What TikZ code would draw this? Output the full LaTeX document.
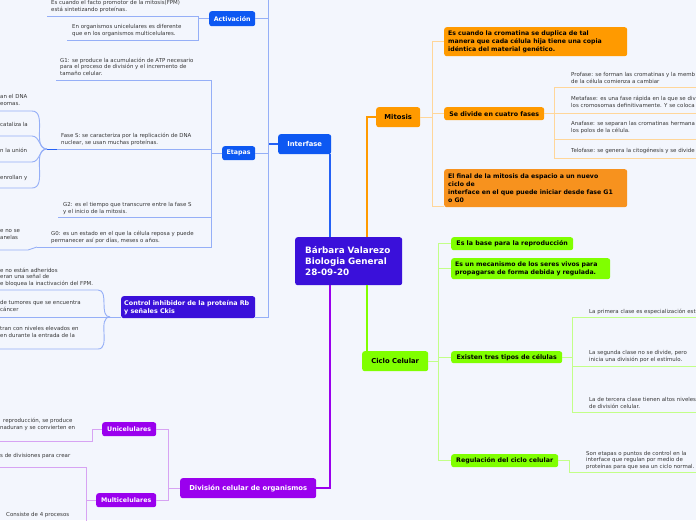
\documentclass[tikz,border=0pt]{standalone}
\usepackage{fontspec}
\setmainfont{DejaVu Sans}

\definecolor{bgcol}{HTML}{F3F6FD}
\definecolor{indigo}{HTML}{3A10DA}
\definecolor{bluebox}{HTML}{0D58F2}
\definecolor{blueline}{HTML}{2461F5}
\definecolor{bluethin}{HTML}{95AFF7}
\definecolor{orangebox}{HTML}{FF9A00}
\definecolor{orangedark}{HTML}{F7921E}
\definecolor{orangethin}{HTML}{FFD699}
\definecolor{greenbox}{HTML}{80FF00}
\definecolor{greenthin}{HTML}{C2FF88}
\definecolor{purplebox}{HTML}{9A00EE}
\definecolor{purplethin}{HTML}{D7A3F3}
\definecolor{notetext}{HTML}{363636}

\tikzset{
  topic/.style={rounded corners=2.5pt, inner sep=0pt, anchor=north west,
    font=\bfseries\fontsize{6.8}{8}\selectfont, text=white},
  sub/.style={rounded corners=2.5pt, inner sep=0pt, anchor=north west,
    font=\bfseries\fontsize{6.3}{8}\selectfont},
  longbox/.style={rounded corners=2.5pt, inner xsep=4pt, inner ysep=0pt, anchor=north west,
    align=left, font=\bfseries\fontsize{6.2}{8}\selectfont},
  note/.style={inner sep=0pt, anchor=base west, align=left, text=notetext,
    font=\fontsize{5.45}{6.6}\selectfont},
  thinline/.style={line width=0.9pt},
  mainline/.style={line width=1.5pt}
}

\begin{document}
\begin{tikzpicture}[x=1pt,y=-1pt]

  \fill[bgcol] (0,0) rectangle (696,520);
  \useasboundingbox (0,0) rectangle (696,520);

  % central topic and main branches
  \node[topic, fill=indigo, text width=87, inner xsep=10pt, minimum height=48, align=left,
    font=\bfseries\fontsize{8.8}{11}\selectfont] (cbox) at (295,237)
    {Bárbara Valarezo\\Biologia General\\28-09-20};

  \node[topic, fill=bluebox, minimum width=53, minimum height=20] (itf) at (278,134) {Interfase};
  \node[topic, fill=orangebox, text=black, minimum width=44, minimum height=20] (mit) at (376,107) {Mitosis};
  \node[topic, fill=greenbox, text=black, minimum width=66, minimum height=20] (ciclo) at (362,351) {Ciclo Celular};
  \node[topic, fill=purplebox, minimum width=136, minimum height=20] (div) at (180,478) {División celular de organismos};

  \coordinate (cbl) at (330,0);
  \coordinate (cbr) at (367,0);
  \draw[mainline, blueline] (cbox.north -| cbl) -- (itf.south -| cbl);
  \draw[mainline, orangebox] (cbox.north -| cbr) |- (mit.west);
  \draw[mainline, greenbox] (cbox.south -| cbr) -- (ciclo.north -| cbr);
  \draw[mainline, purplebox] (cbox.south -| cbl) |- (div.east);

  % Interfase
  \node[sub, fill=bluebox, text=white, minimum width=46, minimum height=15] (act) at (209,11) {Activación};
  \node[sub, fill=bluebox, text=white, minimum width=33, minimum height=14] (etp) at (222,146) {Etapas};
  \node[topic, fill=indigo, text width=128, inner xsep=3pt, minimum height=22, align=left,
    font=\bfseries\fontsize{6.4}{8}\selectfont] (ctl) at (121,296)
    {Control inhibidor de la proteína Rb\\y señales Ckis};

  \coordinate (itop) at (268,-2);
  \coordinate (ctlr) at ([yshift=1pt]ctl.south east);
  \draw[mainline, blueline] (itf.west) -- (itf.west -| itop);
  \draw[thinline, bluethin] (itop) -- (ctlr -| itop) -- (ctlr);
  \draw[thinline, bluethin] (act.east) -- (act.east -| itop);
  \draw[thinline, bluethin] (etp.east) -- (etp.east -| itop);

  % notes: y is the baseline of the last line
  \node[note] (fpm) at (51,11.5) {Es cuando el facto promotor de la mitosis(FPM)\\está sintetizando proteínas.};
  \node[note] (org) at (72,35.5) {En organismos unicelulares es diferente\\que en los organismos multicelulares.};

  \coordinate (actf) at (198,0);
  \coordinate (fpmu) at (47,16);
  \coordinate (orgu) at (67,40);
  \draw[thinline, bluethin] (act.west) -- (act.west -| actf);
  \draw[thinline, bluethin] (fpmu) -- (fpmu -| actf) -- (orgu -| actf) -- (orgu);

  \node[note] (g1) at (60,75.5) {G1: se produce la acumulación de ATP necesario\\para el proceso de división y el incremento de\\tamaño celular.};
  \node[note] (fs) at (61,144.5) {Fase S: se caracteriza por la replicación de DNA\\nuclear, se usan muchas proteínas.};
  \node[note] (g2) at (63,213) {G2: es el tiempo que transcurre entre la fase S\\y el inicio de la mitosis.};
  \node[note] (g0) at (51,242.5) {G0: es un estado en el que la célula reposa y puede\\permanecer así por días, meses o años.};

  \coordinate (etpf) at (211,0);
  \coordinate (g1u) at (56,80);
  \coordinate (fsu) at (57,149);
  \coordinate (g2u) at (58,217);
  \coordinate (g0u) at (37,247);
  \draw[thinline, bluethin] (etp.west) -- (etp.west -| etpf);
  \draw[thinline, bluethin] (g1u) -- (g1u -| etpf) -- (g0u -| etpf) -- (g0u);
  \draw[thinline, bluethin] (fsu) -- (fsu -| etpf);
  \draw[thinline, bluethin] (g2u) -- (g2u -| etpf);

  % cut-off items at the left edge
  \node[note] (dna) at (0,105) {an el DNA\\eomas.};
  \node[note] (cat) at (0,126) {cataliza la};
  \node[note] (union) at (0,152) {n la unión};
  \node[note] (enr) at (0,179) {enrollan y};
  \node[note] (anel) at (0,239) {e no se\\anelas};

  \coordinate (fsj) at (47,149);
  \draw[thinline, blueline] (fsj) -- (fsu);
  \foreach \y in {111,136,162,188}
    \draw[thinline, bluethin] (0,\y) -- (32,\y) to[out=0,in=180] (fsj);
  \coordinate (g0k) at (0,250);
  \draw[thinline, bluethin] (g0k) -- ++(28,0) to[out=0,in=180] (g0u);

  \node[note] (adh) at (0,285.5) {e no están adheridos\\eran una señal de\\e bloquea la inactivación del FPM.};
  \node[note] (tum) at (0,311) {de tumores que se encuentra\\cáncer};
  \node[note] (niv) at (0,337.5) {tran con niveles elevados en\\en durante la entrada de la};

  \coordinate (ctlj) at (110,317);
  \draw[thinline, bluethin] (ctlj) -- (ctlj -| ctl.west);
  \draw[thinline, bluethin] (0,290) -- (98,290) to[out=0,in=180] (ctlj);
  \draw[thinline, bluethin] (0,317) -- (ctlj);
  \draw[thinline, bluethin] (0,349) -- (98,349) to[out=0,in=180] (ctlj);

  % Division celular
  \node[sub, fill=purplebox, text=white, minimum width=54, minimum height=14] (uni) at (102,422) {Unicelulares};
  \node[sub, fill=purplebox, text=white, minimum width=60, minimum height=14] (mul) at (96,493) {Multicelulares};

  \coordinate (divf) at (168,0);
  \draw[thinline, purplethin] (div.west) -- (div.west -| divf);
  \draw[thinline, purplethin] (uni.east) -- (uni.east -| divf) -- (mul.east -| divf) -- (mul.east);

  \node[note] (repr) at (0,429.5) {\hspace*{3pt}reproducción, se produce\\naduran y se convierten en};
  \node[note] (divs) at (0,457) {s de divisiones para crear};
  \node[note] (cons) at (6,516) {Consiste de 4 procesos};

  \coordinate (unik) at (0,441);
  \coordinate (unif) at (92,0);
  \draw[thinline, purplethin] (unik) -- (unik -| unif) -- (uni.west -| unif) -- (uni.west);
  \coordinate (mulk) at (0,467);
  \coordinate (mulb) at (86,522);
  \draw[thinline, purplethin] (mulk) -- (mulk -| mulb) -- (mulb);
  \draw[thinline, purplethin] (mul.west) -- (mul.west -| mulb);

  % Mitosis
  \node[longbox, fill=orangebox, text width=175, minimum height=29] (dup) at (444,27)
    {Es cuando la cromatina se duplica de tal\\manera que cada célula hija tiene una copia\\idéntica del material genético.};
  \node[sub, fill=orangebox, minimum width=100, minimum height=13] (fases) at (444,107) {Se divide en cuatro fases};
  \node[longbox, fill=orangedark, text width=175, minimum height=38] (fin) at (444,169)
    {El final de la mitosis da espacio a un nuevo\\ciclo de\\interface en el que puede iniciar desde fase G1\\o G0};

  \coordinate (mitf) at (432,0);
  \coordinate (finl) at ([yshift=1pt]fin.south west);
  \draw[thinline, orangethin] (mit.east) -- (mit.east -| mitf);
  \draw[thinline, orangethin] (dup.west) -- (dup.west -| mitf) -- (finl -| mitf) -- (finl);
  \draw[thinline, orangethin] (fases.west) -- (fases.west -| mitf);

  \node[note] (pro) at (571,83) {Profase: se forman las cromatinas y la memb\\de la célula comienza a cambiar};
  \node[note] (met) at (571,107.5) {Metafase: es una fase rápida en la que se div\\los cromosomas definitivamente. Y se coloca};
  \node[note] (ana) at (571,132) {Anafase: se separan las cromatinas hermana\\los polos de la célula.};
  \node[note] (tel) at (571,152) {Telofase: se genera la citogénesis y se divide};

  \coordinate (fasf) at (554,0);
  \coordinate (prou) at (700,87);
  \coordinate (metu) at (700,113);
  \coordinate (anau) at (700,139);
  \coordinate (telu) at (700,158);
  \draw[thinline, orangethin] (fases.east) -- (fases.east -| fasf);
  \draw[thinline, orangethin] (prou) -- (prou -| fasf) -- (telu -| fasf) -- (telu);
  \draw[thinline, orangethin] (metu) -- (metu -| fasf);
  \draw[thinline, orangethin] (anau) -- (anau -| fasf);

  % Ciclo celular
  \node[sub, fill=greenbox, minimum width=122, minimum height=13] (base) at (451,237) {Es la base para la reproducción};
  \node[longbox, fill=greenbox, text width=151, minimum height=21] (meca) at (451,258)
    {Es un mecanismo de los seres vivos para\\propagarse de forma debida y regulada.};
  \node[sub, fill=greenbox, minimum width=111, minimum height=12] (tipos) at (451,351) {Existen tres tipos de células};
  \node[sub, fill=greenbox, minimum width=107, minimum height=13] (regu) at (451,454) {Regulación del ciclo celular};

  \coordinate (cicf) at (438,0);
  \draw[thinline, greenthin] (ciclo.east) -- (ciclo.east -| cicf);
  \draw[thinline, greenthin] (base.west) -- (base.west -| cicf) -- (regu.west -| cicf) -- (regu.west);
  \draw[thinline, greenthin] (meca.west) -- (meca.west -| cicf);
  \draw[thinline, greenthin] (tipos.west) -- (tipos.west -| cicf);

  \node[note] (pri) at (589,313) {La primera clase es especialización est};
  \node[note] (seg) at (589,361) {La segunda clase no se divide, pero\\inicia una división por el estímulo.};
  \node[note] (ter) at (589,408.5) {La de tercera clase tienen altos niveles\\de división celular.};
  \node[note] (son) at (586,468.5) {Son etapas o puntos de control en la\\interface que regulan por medio de\\proteínas para que sea un ciclo normal.};

  \coordinate (tipf) at (572,0);
  \coordinate (priu) at (700,317);
  \coordinate (segu) at (700,366);
  \coordinate (teru) at (700,412);
  \draw[thinline, greenthin] (tipos.east) -- (tipos.east -| tipf);
  \draw[thinline, greenthin] (priu) -- (priu -| tipf) -- (teru -| tipf) -- (teru);
  \draw[thinline, greenthin] (segu) -- (segu -| tipf);

  \coordinate (regf) at (569,0);
  \coordinate (regk) at (700,472);
  \draw[thinline, greenthin] (regu.east) -- (regu.east -| regf) -- (regk -| regf) -- (regk);

\end{tikzpicture}
\end{document}
